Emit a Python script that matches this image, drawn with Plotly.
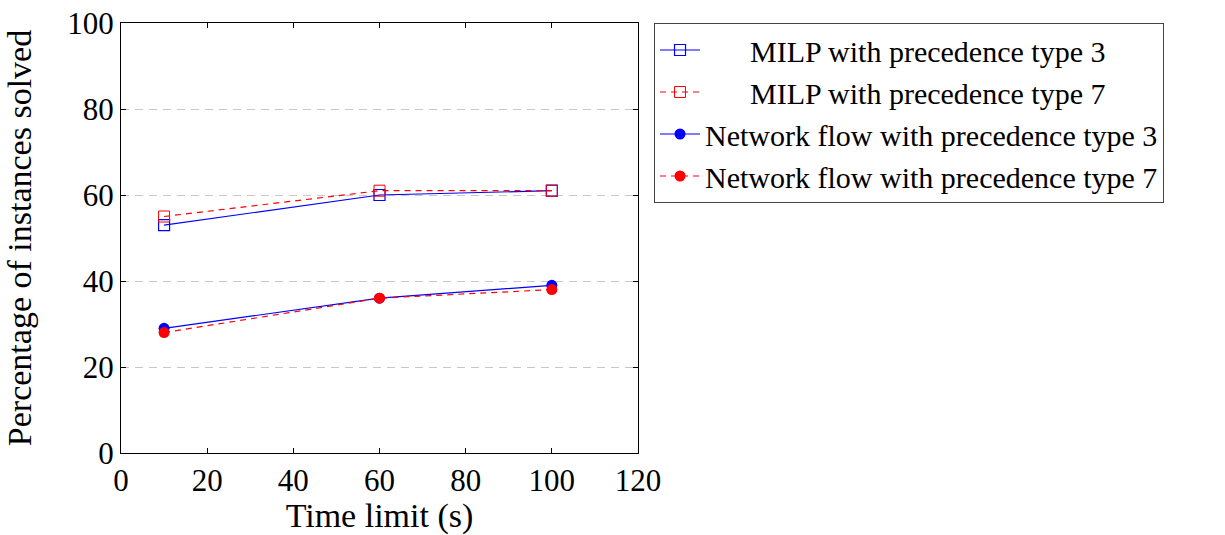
import plotly.graph_objects as go

time_limits = [10, 60, 100]
milp_type3 = [53, 60, 61]
milp_type7 = [55, 61, 61]
flow_type3 = [29, 36, 39]
flow_type7 = [28, 36, 38]

names = [
    "      MILP with precedence type 3",
    "      MILP with precedence type 7",
    "Network flow with precedence type 3",
    "Network flow with precedence type 7",
]

FONT = "Liberation Serif"
FS = 31
TFS = 34
fig = go.Figure()
fig.add_trace(go.Scatter(x=time_limits, y=milp_type3, name=names[0], mode="lines+markers",
                         line=dict(color="blue", width=1.2),
                         marker=dict(symbol="square-open", size=11, color="blue", line=dict(width=1.2))))
fig.add_trace(go.Scatter(x=time_limits, y=milp_type7, name=names[1], mode="lines+markers",
                         line=dict(color="red", width=1.2, dash="6px,5px"),
                         marker=dict(symbol="square-open", size=11, color="red", line=dict(width=1.0))))
fig.add_trace(go.Scatter(x=time_limits, y=flow_type3, name=names[2], mode="lines+markers",
                         line=dict(color="blue", width=1.2),
                         marker=dict(symbol="circle", size=11, color="blue")))
fig.add_trace(go.Scatter(x=time_limits, y=flow_type7, name=names[3], mode="lines+markers",
                         line=dict(color="red", width=1.2, dash="6px,5px"),
                         marker=dict(symbol="circle", size=11, color="red")))

axis_common = dict(showline=True, linecolor="black", linewidth=1, mirror="ticks",
                   ticks="inside", ticklen=5, tickcolor="black", automargin=False,
                   ticklabeloverflow="allow",
                   tickfont=dict(family=FONT, size=FS, color="black"), zeroline=False)

fig.update_layout(
    width=1225, height=535,
    margin=dict(l=121, r=587, t=23, b=82),
    paper_bgcolor="white", plot_bgcolor="white",
    font=dict(family=FONT, size=FS, color="black"),
    xaxis=dict(range=[0, 120], tickvals=[0, 20, 40, 60, 80, 100, 120], showgrid=False,
               title=dict(text="Time limit (s)", font=dict(family=FONT, size=TFS), standoff=8),
               **axis_common),
    yaxis=dict(range=[0, 100], tickvals=[0, 20, 40, 60, 80, 100], showgrid=True,
               gridcolor="#c8c8c8", griddash="8px,6px", gridwidth=1,
               title=dict(text="Percentage of instances solved", font=dict(family=FONT, size=TFS), standoff=25),
               **axis_common),
    legend=dict(x=1.031, y=1.0, xanchor="left", yanchor="top",
                bordercolor="#444", borderwidth=1, bgcolor="white",
                font=dict(family=FONT, size=30), tracegroupgap=0, itemwidth=40),
    showlegend=True,
)
fig.write_html("out.html", config={"displayModeBar": False},
               post_script="document.body.style.margin='0';")
